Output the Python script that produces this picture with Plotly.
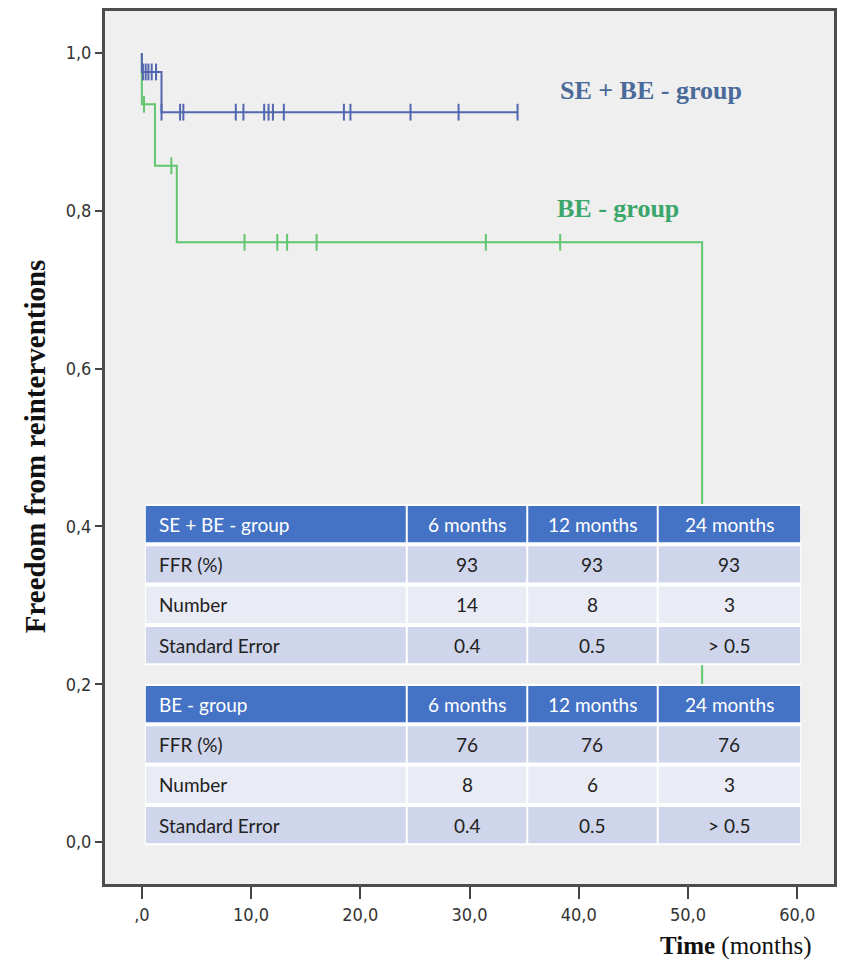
import plotly.graph_objects as go

# ---------------- data ----------------
# Kaplan-Meier step curves (time in months, survival fraction)
se_be_times = [0.0, 0.0, 1.8, 34.4]
se_be_surv = [1.0, 0.976, 0.925, 0.925]
se_be_censor = [0.1, 0.35, 0.6, 0.9, 1.3, 1.8, 3.5, 3.8, 8.6, 9.3, 11.2, 11.6, 12.0, 13.0,
                18.5, 19.1, 24.6, 29.0, 34.4]

be_times = [0.0, 0.0, 1.2, 3.2, 51.3, 51.3]
be_surv = [1.0, 0.935, 0.857, 0.76, 0.76, 0.0]
be_censor = [0.2, 2.7, 9.4, 12.4, 13.3, 16.0, 31.5, 38.3]

x_tickvals = [0, 10, 20, 30, 40, 50, 60]
x_ticktext = [",0", "10,0", "20,0", "30,0", "40,0", "50,0", "60,0"]
y_tickvals = [0.0, 0.2, 0.4, 0.6, 0.8, 1.0]
y_ticktext = ["0,0", "0,2", "0,4", "0,6", "0,8", "1,0"]

table_cols = ["6 months", "12 months", "24 months"]
row_labels = ["FFR (%)", "Number", "Standard Error"]
se_be_ffr = ["93", "93", "93"]
se_be_number = ["14", "8", "3"]
se_be_se = ["0.4", "0.5", "> 0.5"]
be_ffr = ["76", "76", "76"]
be_number = ["8", "6", "3"]
be_se = ["0.4", "0.5", "> 0.5"]


def step_value(times, surv, t):
    idx = 0
    for i, tt in enumerate(times):
        if tt <= t:
            idx = i
    return surv[idx]


BLUE_LINE = "#5267ad"
GREEN_LINE = "#62c56f"

fig = go.Figure()

# BE group (green)
fig.add_trace(go.Scatter(x=be_times, y=be_surv, mode="lines", line=dict(color=GREEN_LINE, width=2, shape="hv"),
                         showlegend=False, hoverinfo="skip"))
fig.add_trace(go.Scatter(x=be_censor, y=[step_value(be_times[:-1], be_surv[:-1], t) for t in be_censor],
                         mode="markers", marker=dict(symbol="line-ns", size=12, line=dict(color=GREEN_LINE, width=2)),
                         showlegend=False, hoverinfo="skip"))
# SE + BE group (blue)
fig.add_trace(go.Scatter(x=se_be_times, y=se_be_surv, mode="lines", line=dict(color=BLUE_LINE, width=2, shape="hv"),
                         showlegend=False, hoverinfo="skip"))
fig.add_trace(go.Scatter(x=se_be_censor, y=[step_value(se_be_times, se_be_surv, t) for t in se_be_censor],
                         mode="markers", marker=dict(symbol="line-ns", size=12, line=dict(color=BLUE_LINE, width=2)),
                         showlegend=False, hoverinfo="skip"))

# geometry of plot area (pixels)
W, H = 843, 962
L, R, T, B = 105, 837, 11, 884
pw, ph = R - L, B - T


def px_x(x):
    return (x - L) / pw


def px_y(y):
    return (B - y) / ph


HEADER_BLUE = "#4472c4"
DARK_ROW = "#cfd5ea"
LIGHT_ROW = "#e9ebf5"
TABLE_FONT = "Lato, 'Open Sans', sans-serif"

shapes = []
annotations = []

col_edges = [145, 408, 529, 660, 804]
ROW_H = 40.3
GAP = 2


def add_table(title, ffr, number, se, top):
    rows = [[title] + table_cols,
            [row_labels[0]] + ffr,
            [row_labels[1]] + number,
            [row_labels[2]] + se]
    fills = [HEADER_BLUE, DARK_ROW, LIGHT_ROW, DARK_ROW]
    bottom = top + ROW_H * len(rows)
    shapes.append(dict(type="rect", xref="paper", yref="paper", layer="above",
                       x0=px_x(col_edges[0]), x1=px_x(col_edges[-1]), y0=px_y(bottom), y1=px_y(top),
                       fillcolor="white", line=dict(width=0)))
    for r, row in enumerate(rows):
        rt = top + r * ROW_H
        rb = rt + ROW_H
        for c, txt in enumerate(row):
            cl, cr = col_edges[c], col_edges[c + 1]
            shapes.append(dict(type="rect", xref="paper", yref="paper", layer="above",
                               x0=px_x(cl + GAP / 2), x1=px_x(cr - GAP / 2),
                               y0=px_y(rb - GAP), y1=px_y(rt + GAP),
                               fillcolor=fills[r], line=dict(width=0)))
            color = "white" if r == 0 else "#222222"
            if c == 0:
                annotations.append(dict(x=px_x(cl + 12), y=px_y((rt + rb) / 2), xref="paper", yref="paper",
                                        xanchor="left", yanchor="middle", text=txt, showarrow=False,
                                        font=dict(family=TABLE_FONT, size=19, color=color)))
            else:
                annotations.append(dict(x=px_x((cl + cr) / 2), y=px_y((rt + rb) / 2), xref="paper", yref="paper",
                                        xanchor="center", yanchor="middle", text=txt, showarrow=False,
                                        font=dict(family=TABLE_FONT, size=19, color=color)))


add_table("SE + BE - group", se_be_ffr, se_be_number, se_be_se, 504)
add_table("BE - group", be_ffr, be_number, be_se, 684)

# x range so that 0 -> px 142, 60 -> px 800
x_per_px = 60 / (800 - 142)
x0 = 0 - (142 - L) * x_per_px
x1 = 60 + (R - 800) * x_per_px
y_per_px = 1.0 / (842 - 53)
y0 = 0 - (B - 842) * y_per_px
y1 = 1.0 + (53 - T) * y_per_px

SERIF = "'Liberation Serif', 'Times New Roman', serif"
TICKFONT = dict(family="'DejaVu Sans Condensed', 'Liberation Sans Narrow', sans-serif", size=18, color="#333")

annotations += [
    dict(x=46.6, y=0.953, xref="x", yref="y", text="<b>SE + BE - group</b>", showarrow=False,
         font=dict(family=SERIF, size=26, color="#4a6a99")),
    dict(x=43.6, y=0.8035, xref="x", yref="y", text="<b>BE - group</b>", showarrow=False,
         font=dict(family=SERIF, size=26, color="#3aa66a")),
    dict(x=(35 - L) / pw, y=px_y(446), xref="paper", yref="paper", xanchor="center", yanchor="middle",
         text="<b>Freedom from reinterventions</b>",
         showarrow=False, textangle=-90, font=dict(family=SERIF, size=29, color="#111")),
    dict(x=(817 - L) / pw, y=px_y(946), xref="paper", yref="paper", xanchor="right", yanchor="middle",
         text="<b>Time</b> (months)", showarrow=False, font=dict(family=SERIF, size=25, color="#111")),
]

fig.update_layout(
    width=W, height=H,
    margin=dict(l=L, r=W - R, t=T, b=H - B),
    paper_bgcolor="white",
    plot_bgcolor="#efefef",
    xaxis=dict(range=[x0, x1], tickvals=x_tickvals, ticktext=x_ticktext, ticks="outside", ticklen=12,
               tickwidth=2, tickcolor="#444", showgrid=False, zeroline=False, showline=True, linecolor="#4d4d4d",
               linewidth=3, mirror=True, tickfont=TICKFONT),
    yaxis=dict(range=[y0, y1], tickvals=y_tickvals, ticktext=y_ticktext, ticks="outside", ticklen=7,
               tickwidth=2, tickcolor="#444", showgrid=False, zeroline=False, showline=True, linecolor="#4d4d4d",
               linewidth=3, mirror=True, tickfont=TICKFONT),
    shapes=shapes,
    annotations=annotations,
)

fig.write_html("out.html")
